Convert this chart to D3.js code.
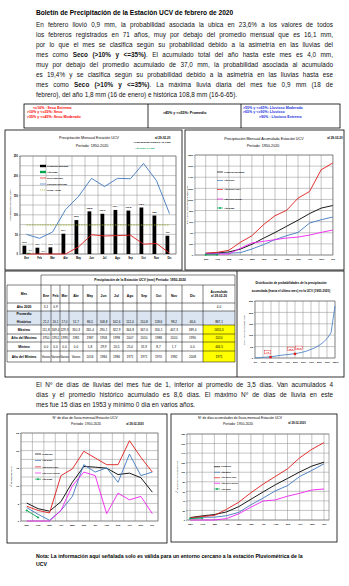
<!DOCTYPE html>
<html><head><meta charset="utf-8">
<script src="https://cdn.jsdelivr.net/npm/d3@7"></script>
<style>html,body{margin:0;padding:0;background:#fff}svg{display:block}</style>
</head><body><svg id="c" width="349" height="586"></svg>
<script>
// ---------------- DATA ----------------
const months = ["Ene","Feb","Mar","Abr","May","Jun","Jul","Ago","Sep","Oct","Nov","Dic"];
// Chart 1: monthly precipitation (mm)
const promMensual = [21.2,16.1,17.0,51.7,86.5,108.8,102.6,112.4,110.8,118.6,98.2,46.6];
const anio2020 = [3.1,0.9];
const secoExtremo = [0,0,0,0,18,49,46,47,48,25,27,2];
const lluviosoExtremo = [50,40,56,113,147,193,172,193,192,231,187,103];
const promAnual = 73.9;
const yTicks1 = [0,50,100,150,200,250];
// Chart 2: accumulated precipitation (mm)
const acumPromedio = [21.2,37.3,54.3,106.0,192.5,301.3,403.9,516.3,627.1,745.7,843.9,890.5];
const acum2019 = [30,30,32,42,108,186,276,347,407,575,635,683];
const acum2010 = [36,48,84,228,347,545,707,803,1024,1144,1534,1655.5];
const acum1971 = [18,18,18,120,216,246,276,305,323,359,407,449];
const acum2020 = [3.1,4.0];
const yTicks2 = [0,200,400,600,800,1000,1200,1400,1600,1800];
// Table
const tblAnio2020 = [3.1,0.9,null,null,null,null,null,null,null,null,null,null];
const tblMaximo = [111.8,169.4,129.3,310.3,265.4,290.1,322.9,344.8,347.6,316.1,407.3,189.4];
const tblAnioMax = [1950,1951,1995,1981,1987,1958,1998,2007,2010,1988,2010,1990];
const tblMinimo = [0,0,0,0,5.8,29.9,20.5,25.0,31.9,8.7,1.7,0];
const tblAnioMin = ["Varios","Varios","Varios","Varios",2016,1984,1986,1971,1971,1970,1982,2008];
const tblAcum = {anio2020:4.0, prom:887.1, max:1655.5, anioMax:2010, min:446.5, anioMin:1971};
// Distribution chart
const distProb = [0,5,10,15,20,25,30,35,40,45,50,55,60,65,70,75,80,85,90,95,100];
const distVal  = [0,1,3,4,6,8,11,13,15,17,19,22,26,31,38,45,55,68,85,110,228];
const distMarkProb = [19.4,50];
const distMarkVal = [4.0,18];
const distLabels = ["4,0","18,0","37,0"];
const distXTicks = [0,10,20,30,40,50,60,70,80,90,100];
const distYTicks = [0,50,100,150,200,250];
// Chart 3: rain days per month
const diasProm = [5.1,3.5,2.8,5.5,11.0,15.5,15.3,15.0,13.2,13.6,12.3,8.2];
const dias2019 = [3.8,1.9,0.2,3.0,7.0,16.0,13.9,15.1,11.0,19.0,12.9,13.9];
const dias2010 = [4.2,3.0,2.3,12.9,14.8,19.8,17.9,16.0,16.0,22.8,18.1,13.9];
const dias1971 = [0,0,0,3.0,10.0,13.9,12.9,2.1,7.9,6.0,7.0,2.1];
const dias2020 = [3,1];
const yTicks3 = [0,5,10,15,20,25];
// Chart 4: accumulated rain days
const diasAcumProm = [5.1,8.6,11.4,16.9,27.9,43.4,58.7,73.7,86.9,100.5,112.8,121.0];
const diasAcum2019 = [3.8,5.7,5.9,8.9,15.9,31.9,45.8,60.9,71.9,90.9,103.8,117.7];
const diasAcum2010 = [4.2,7.2,9.5,22.4,37.2,57.0,75.0,91.0,107.0,130.0,148.0,162.0];
const diasAcum1971 = [0,0,0,3,13,26.9,39.8,41.9,49.8,55.8,62.8,64.9];
const diasAcum2020 = [3,4];
const yTicks4 = [0,20,40,60,80,100,120,140,160,180];

// ---------------- HELPERS ----------------
const NAR = "'Liberation Sans Narrow','Arial Narrow','Liberation Sans',Arial,sans-serif";
const SANS = "'Liberation Sans',Arial,Helvetica,sans-serif";
const GRID = "#8a8a8a";
const C = {red:"#e01b1b", blue:"#3f78c0", mag:"#f020f0", green:"#00a650", olive:"#9ab21c", black:"#000"};
const fmt1 = v => d3.format(".1f")(v).replace(".", ",");
const svg = d3.select("#c");
svg.append("rect").attr("width",349).attr("height",586).attr("fill","#fff");

function T(g,x,y,s,o={}) {
  const t = g.append("text").attr("x",x).attr("y",y).attr("dy","0.35em")
    .attr("font-family", o.fam||NAR).attr("font-size", o.size||3)
    .attr("fill", o.fill||"#000").attr("text-anchor", o.anchor||"start").text(s);
  if (o.bold) t.attr("font-weight","bold");
  if (o.rot) t.attr("transform",`rotate(-90,${x},${y})`);
  return t;
}
function box(g,x,y,w,h,sw=0.8){
  g.append("rect").attr("x",x).attr("y",y).attr("width",w).attr("height",h)
   .attr("fill","none").attr("stroke","#000").attr("stroke-width",sw);
}
function frame(g, xL, xR, y, yGrid, xGrid) {
  const [yB, yT] = y.range();
  g.append("g").selectAll("line").data(yGrid).join("line")
    .attr("x1",xL).attr("x2",xR).attr("y1",d=>y(d)).attr("y2",d=>y(d))
    .attr("stroke",GRID).attr("stroke-width",0.5);
  g.append("g").selectAll("line").data(xGrid).join("line")
    .attr("x1",d=>d).attr("x2",d=>d).attr("y1",yT).attr("y2",yB)
    .attr("stroke",GRID).attr("stroke-width",0.5);
  g.append("rect").attr("x",xL).attr("y",yT).attr("width",xR-xL).attr("height",yB-yT)
    .attr("fill","none").attr("stroke","#6f6f6f").attr("stroke-width",0.6);
}
function yAxis(g, y, xL, ticks, f, size){
  const a = g.append("g").attr("transform",`translate(${xL},0)`)
    .call(d3.axisLeft(y).tickValues(ticks).tickSize(1).tickPadding(1).tickFormat(f));
  a.select(".domain").remove();
  a.selectAll("text").attr("font-size",size).attr("font-family",NAR).attr("font-weight","bold");
  a.selectAll("line").attr("stroke","#555").attr("stroke-width",0.4);
}
function xAxis(g, x, yB, size, pad, f){
  const ax = d3.axisBottom(x).tickSize(0).tickPadding(pad);
  if (f) ax.tickFormat(f);
  const a = g.append("g").attr("transform",`translate(0,${yB})`).call(ax);
  a.select(".domain").remove();
  a.selectAll("text").attr("font-size",size).attr("font-family",NAR).attr("font-weight","bold");
}
function plus(g,x,y,color,s=1.1){
  g.append("path").attr("d",`M${x-s},${y}H${x+s}M${x},${y-s}V${y+s}`)
   .attr("stroke",color).attr("stroke-width",0.8).attr("fill","none");
}
function series(g, data, xf, y, color, w=0.8, marker=false){
  g.append("path").datum(data)
    .attr("d", d3.line().x((d,i)=>xf(months[i])).y(d=>y(d)))
    .attr("fill","none").attr("stroke",color).attr("stroke-width",w).attr("stroke-linejoin","round");
  if (marker) data.forEach((d,i)=>plus(g, xf(months[i]), y(d), color));
}
function legend(g, x, ys, items, size){
  items.forEach((it,i)=>{
    const y = ys[i];
    if (it.type==="rect") g.append("rect").attr("x",x).attr("y",y-1.2).attr("width",6).attr("height",2.4).attr("fill",it.color);
    else {
      g.append("line").attr("x1",x).attr("x2",x+6).attr("y1",y).attr("y2",y)
        .attr("stroke",it.color).attr("stroke-width",0.7)
        .attr("stroke-dasharray", it.type==="dash"?"1.2,0.8":null);
      if (it.type==="plus") plus(g, x+3, y, it.color, 1);
    }
    T(g, x+7, y, it.label, {size, bold:true});
  });
}
function para(lines, x, y0, lh, W, size){
  lines.forEach((ln,i)=>{
    const t = svg.append("text").attr("x",x).attr("y",y0+i*lh)
      .attr("font-family",SANS).attr("font-size",size).attr("fill","#111");
    ln.forEach(seg => { const s = t.append("tspan").text(seg.t); if (seg.b) s.attr("font-weight","bold"); });
    if (i < lines.length-1) {
      const len = t.node().getComputedTextLength();
      const n = (t.text().match(/ /g)||[]).length;
      if (n) t.attr("word-spacing", (W-len)/n);
    }
  });
}

// ---------------- HEADER TEXT ----------------
T(svg, 36, 12.8, "Boletín de Precipitación de la Estación UCV de febrero de 2020", {fam:SANS, size:6.6, bold:true});
para([
  [{t:"En febrero llovió 0,9 mm, la probabilidad asociada la ubica en 23,6% a los valores de todos"}],
  [{t:"los febreros registrados en 71 años, muy por debajo del promedio mensual que es 16,1 mm,"}],
  [{t:"por lo que el mes se clasifica según su probabilidad debido a la asimetría en las lluvias del"}],
  [{t:"mes como "},{t:"Seco (>10% y <=35%)",b:true},{t:". El acumulado total del año hasta este mes es 4,0 mm,"}],
  [{t:"muy por debajo del promedio acumulado de 37,0 mm, la probabilidad asociada al acumulado"}],
  [{t:"es 19,4% y se clasifica según su probabilidad debido a la asimetría en las lluvias hasta ese"}],
  [{t:"mes como "},{t:"Seco (>10% y <=35%)",b:true},{t:". La máxima lluvia diaria del mes fue 0,9 mm (18 de"}],
  [{t:"febrero), del año 1,8 mm (16 de enero) e histórica 108,8 mm (16-6-65)."}]
], 36, 27, 10.05, 297, 6.4);

// Classification legend box
const lg = svg.append("g");
box(lg, 24, 104, 316, 24, 0.8);
lg.append("line").attr("x1",148).attr("x2",148).attr("y1",104).attr("y2",128).attr("stroke","#000").attr("stroke-width",0.8);
lg.append("line").attr("x1",241).attr("x2",241).attr("y1",104).attr("y2",128).attr("stroke","#000").attr("stroke-width",0.8);
T(lg, 33, 107.5, "<=10%   : Seco Extremo", {size:3.6, fill:"#ff0000", bold:true, fam:SANS});
T(lg, 27, 112, ">10% y <=35%: Seco", {size:3.6, fill:"#ff0000", bold:true, fam:SANS});
T(lg, 27, 116.5, ">35% y <=45%: Seco Moderado", {size:3.6, fill:"#ff0000", bold:true, fam:SANS});
T(lg, 163, 112.7, ">45% y <=55%:  Promedio", {size:3.6, bold:true, fam:SANS});
T(lg, 243, 107.5, ">55% y <=65%: Lluvioso Moderado", {size:3.6, fill:"#2233dd", bold:true, fam:SANS});
T(lg, 243, 112, ">65% y <=90%: Lluvioso", {size:3.6, fill:"#2233dd", bold:true, fam:SANS});
T(lg, 259, 116.5, ">90%    : Lluvioso Extremo", {size:3.6, fill:"#2233dd", bold:true, fam:SANS});

// ---------------- CHART 1 ----------------
{
  const g = svg.append("g");
  box(g, 5, 130, 177, 140);
  const x = d3.scaleBand().domain(months).range([20,176]);
  const y = d3.scaleLinear().domain([0,250]).range([254,156]);
  const bw = x.bandwidth();
  frame(g, 20, 176, y, d3.range(0,251,25), months.map(m=>x(m)).concat([176]));
  yAxis(g, y, 20, yTicks1, d=>d, 2.6);
  xAxis(g, x, 254, 2.6, 3);
  const sub = d3.scaleBand().domain(["p","a"]).range([0,bw]).paddingInner(0.1).paddingOuter(0.6);
  g.append("g").selectAll("rect").data(promMensual).join("rect")
    .attr("x",(d,i)=>x(months[i])+sub("p")).attr("width",sub.bandwidth())
    .attr("y",d=>y(d)).attr("height",d=>y(0)-y(d)).attr("fill","#000");
  g.append("g").selectAll("rect").data(anio2020).join("rect")
    .attr("x",(d,i)=>x(months[i])+sub("a")).attr("width",sub.bandwidth())
    .attr("y",d=>y(d)).attr("height",d=>y(0)-y(d)).attr("fill",C.green);
  promMensual.forEach((d,i)=>{
    const cx = x(months[i])+sub("p")+sub.bandwidth()/2;
    g.append("rect").attr("x",cx-3.3).attr("y",y(d)-5).attr("width",6.6).attr("height",3).attr("fill","#fff");
    T(g, cx, y(d)-3.5, fmt1(d), {size:2.3, anchor:"middle", bold:true});
  });
  anio2020.forEach((d,i)=>{
    const cx = x(months[i])+sub("a")+sub.bandwidth()/2+1.5;
    T(g, cx, y(d)-2.5, fmt1(d), {size:2.2, anchor:"middle", bold:true, fill:"#333"});
  });
  const cx = m => x(m)+bw/2;
  series(g, secoExtremo, cx, y, C.red, 0.9);
  series(g, lluviosoExtremo, cx, y, C.blue, 0.9);
  g.append("line").attr("x1",cx("Ene")).attr("x2",cx("Dic")).attr("y1",y(promAnual)).attr("y2",y(promAnual))
    .attr("stroke",C.olive).attr("stroke-width",0.8).attr("stroke-dasharray","1.6,1");
  legend(g, 40, [166,172,178,184,190], [
    {type:"rect",color:"#000",label:"Promedio Mensual"},
    {type:"rect",color:C.green,label:"Año 2020"},
    {type:"line",color:C.red,label:"Seco Extremo"},
    {type:"line",color:C.blue,label:"Lluvioso Extremo"},
    {type:"dash",color:C.olive,label:"Prom. Anual"}], 2.4);
  T(g, 89, 138, "Precipitación Mensual Estación UCV", {size:3.7, anchor:"middle"});
  T(g, 92, 145.5, "Período: 1950-2020", {size:3.7, anchor:"middle"});
  T(g, 155, 137.5, "al 29-02-20", {size:3, bold:true});
  T(g, 134, 142.4, "Prom.Mensual histórico: 16,1 mm", {size:2.3, bold:true});
  T(g, 135, 148.5, "Año 2020: 0,9 mm", {size:2.3, bold:true, fill:C.green});
  T(g, 10, 205, "Precipitación mensual (mm)", {size:2.5, rot:true, anchor:"middle"});
}

// ---------------- CHART 2 ----------------
{
  const g = svg.append("g");
  box(g, 185, 130, 159, 140);
  const x = d3.scalePoint().domain(months).range([205.7,332.7]);
  const y = d3.scaleLinear().domain([0,1800]).range([255,155]);
  frame(g, 195, 333, y, yTicks2, months.map(m=>x(m)));
  yAxis(g, y, 195, yTicks2, d=>d, 2.3);
  xAxis(g, x, 255, 2.5, 3);
  series(g, acumPromedio, x, y, C.black, 0.9);
  series(g, acum2019, x, y, C.blue, 0.9);
  series(g, acum2010, x, y, C.red, 0.9);
  series(g, acum1971, x, y, C.mag, 0.9);
  series(g, acum2020, x, y, C.green, 0.9, true);
  legend(g, 217, [172,180.5,189.5,199,208], [
    {type:"line",color:"#000",label:"Promedio Mensual"},
    {type:"line",color:C.blue,label:"Año 2019"},
    {type:"line",color:C.red,label:"Año 2010 (lluv.)"},
    {type:"line",color:C.mag,label:"Año 1971 (Seco)"},
    {type:"plus",color:C.green,label:"Año 2020"}], 2.3);
  T(g, 264, 138.3, "Precipitación Mensual Acumulada Estación UCV", {size:3.7, anchor:"middle"});
  T(g, 263, 145.5, "Período: 1950-2020", {size:3.7, anchor:"middle"});
  T(g, 335, 138, "al 29-02-20", {size:3, bold:true, anchor:"middle"});
  T(g, 187.5, 205, "Precipitación mensual acumulada (mm)", {size:2.2, rot:true, anchor:"middle"});
}

// ---------------- TABLE ----------------
{
  const g = svg.append("g");
  box(g, 5, 271, 339, 106, 0.8);
  g.append("line").attr("x1",237).attr("x2",237).attr("y1",271).attr("y2",377).attr("stroke","#000").attr("stroke-width",0.8);
  const colX = [7,41,51,60,69,83,97,110,123,137,151,166,182,203,235];
  const rowY = [275,285,303,311,325,334,342,351,362];
  // backgrounds
  g.append("rect").attr("x",colX[0]).attr("y",rowY[3]).attr("width",colX[14]-colX[0]).attr("height",rowY[4]-rowY[3]).attr("fill","#dbe5f1");
  g.append("rect").attr("x",colX[13]).attr("y",rowY[4]).attr("width",colX[14]-colX[13]).attr("height",rowY[8]-rowY[4]).attr("fill","#ffff00");
  // horizontal lines
  rowY.forEach((yy,i)=>{
    g.append("line").attr("x1", i===0?colX[1]:colX[0]).attr("x2",colX[14]).attr("y1",yy).attr("y2",yy)
      .attr("stroke","#000").attr("stroke-width",0.5);
  });
  colX.forEach((xx,i)=>{
    const top = (i===0) ? rowY[1] : ((i===1||i===14) ? rowY[0] : rowY[1]);
    g.append("line").attr("x1",xx).attr("x2",xx).attr("y1",top).attr("y2",rowY[8])
      .attr("stroke","#000").attr("stroke-width",0.5);
  });
  const cxc = i => (colX[i]+colX[i+1])/2;
  const cyr = r => (rowY[r]+rowY[r+1])/2;
  T(g, 140, cyr(0), "Precipitación de la Estación UCV (mm)     Período: 1950-2020", {size:3.3, anchor:"middle", bold:true});
  T(g, cxc(0), cyr(1), "Mes", {size:3.3, anchor:"middle", bold:true});
  months.forEach((m,i)=>T(g, cxc(i+1), cyr(1)+1.5, m, {size:3.3, anchor:"middle", bold:true}));
  T(g, cxc(13), cyr(1)-2, "Acumulado", {size:3.1, anchor:"middle", bold:true});
  T(g, cxc(13), cyr(1)+2.2, "al 29-02-20", {size:3.1, anchor:"middle", bold:true});
  const labels = ["Año 2020","","Máximo","Año del Máximo","Mínimo","Año del Mínimo"];
  const rowsData = [tblAnio2020, promMensual, tblMaximo, tblAnioMax, tblMinimo, tblAnioMin];
  const acumVals = [fmt1(tblAcum.anio2020), fmt1(tblAcum.prom), fmt1(tblAcum.max), tblAcum.anioMax, fmt1(tblAcum.min), tblAcum.anioMin];
  const isNum = [true,true,true,false,true,false];
  rowsData.forEach((arr,r)=>{
    const ry = r===1 ? rowY[4]-3.2 : cyr(r+2);
    if (r===1) {
      T(g, cxc(0), rowY[3]+3.3, "Promedio", {size:3.3, anchor:"middle", bold:true});
      T(g, cxc(0), rowY[4]-3.2, "Histórico", {size:3.3, anchor:"middle", bold:true});
    } else T(g, cxc(0), ry, labels[r], {size:3.3, anchor:"middle", bold:true});
    arr.forEach((v,i)=>{
      if (v===null) return;
      T(g, cxc(i+1), ry, (isNum[r] && typeof v==="number") ? fmt1(v) : String(v), {size:3.1, anchor:"middle"});
    });
    T(g, cxc(13), ry, String(acumVals[r]), {size:3.1, anchor:"middle"});
  });
}

// ---------------- DISTRIBUTION CHART ----------------
{
  const g = svg.append("g");
  const x = d3.scaleLinear().domain([0,100]).range([255,335]);
  const y = d3.scaleLinear().domain([0,250]).range([358,301]);
  frame(g, 255, 335, y, distYTicks, distXTicks.map(d=>x(d)));
  yAxis(g, y, 255, distYTicks, d=>d, 2.4);
  const xa = g.append("g").attr("transform","translate(0,358)")
    .call(d3.axisBottom(x).tickValues(distXTicks).tickSize(0).tickPadding(3).tickFormat(d=>d+"%"));
  xa.select(".domain").remove();
  xa.selectAll("text").attr("font-size",2.4).attr("font-family",NAR).attr("font-weight","bold");
  g.append("path").datum(distProb.map((p,i)=>[p,distVal[i]]))
    .attr("d", d3.line().x(d=>x(d[0])).y(d=>y(d[1])))
    .attr("fill","none").attr("stroke",C.blue).attr("stroke-width",0.8);
  distMarkProb.forEach((p,i)=>{
    g.append("rect").attr("x",x(p)-1.2).attr("y",y(distMarkVal[i])-1.2).attr("width",2.4).attr("height",2.4).attr("fill",C.red);
  });
  const lblPos = [[x(distMarkProb[0])-3, y(distMarkVal[0])-5],[x(distMarkProb[1])-4, y(distMarkVal[1])-5],[x(distMarkProb[1])+4, y(distMarkVal[1])-6]];
  lblPos.forEach((p,i)=>{
    g.append("rect").attr("x",p[0]-3.3).attr("y",p[1]-1.8).attr("width",6.6).attr("height",3.6)
      .attr("fill","#fff").attr("stroke",C.red).attr("stroke-width",0.4);
    T(g, p[0], p[1], distLabels[i], {size:2.4, anchor:"middle", fill:C.red, bold:true});
  });
  T(g, 291, 283, "Distribución de probabilidades de la precipitación", {size:3, anchor:"middle", bold:true});
  T(g, 291, 290.5, "acumulada (hasta el último mes) en la UCV (1950-2020)", {size:3, anchor:"middle", bold:true});
  T(g, 244, 330, "Precipitación acumulada (mm)", {size:2.2, rot:true, anchor:"middle"});
}

// ---------------- MIDDLE TEXT ----------------
para([
  [{t:"El Nº de días de lluvias del mes fue de 1, inferior al promedio de 3,5 días. Van acumulados 4"}],
  [{t:"días y el promedio histórico acumulado es 8,6 días. El máximo Nº de días de lluvia en este"}],
  [{t:"mes fue 15 días en 1953 y mínimo 0 día en varios años."}]
], 36, 387.3, 9.6, 297, 6.4);

// ---------------- CHART 3 ----------------
{
  const g = svg.append("g");
  box(g, 7, 414, 160, 129);
  const x = d3.scaleBand().domain(months).range([21,158]);
  const y = d3.scaleLinear().domain([0,25]).range([521,433]);
  frame(g, 21, 158, y, d3.range(0,25.1,2.5), months.map(m=>x(m)).concat([158]));
  yAxis(g, y, 21, yTicks3, d=>d, 2.4);
  xAxis(g, x, 521, 2.5, 3.5);
  const cx = m => x(m)+x.bandwidth()/2;
  series(g, diasProm, cx, y, C.black, 0.9);
  series(g, dias2019, cx, y, C.blue, 0.9);
  series(g, dias2010, cx, y, C.red, 0.9);
  series(g, dias1971, cx, y, C.mag, 0.9);
  series(g, dias2020, cx, y, C.green, 0.9, true);
  legend(g, 35, [454,460.5,466.8,473,479.2], [
    {type:"line",color:"#000",label:"Promedio"},
    {type:"line",color:C.blue,label:"Año 2019"},
    {type:"line",color:C.red,label:"Año 2010 (lluv)"},
    {type:"line",color:C.mag,label:"Año 1971 (Seco)"},
    {type:"plus",color:C.green,label:"Año 2020"}], 2.3);
  T(g, 85, 418.3, "Nº de días de lluvia mensual Estación UCV", {size:3.4, anchor:"middle"});
  T(g, 86, 424, "Período: 1950-2020", {size:3.4, anchor:"middle"});
  T(g, 135, 424, "al 29-02-2020", {size:2.8, anchor:"middle", bold:true});
  T(g, 11.5, 477, "Nº de días de lluvia", {size:2.4, rot:true, anchor:"middle"});
}

// ---------------- CHART 4 ----------------
{
  const g = svg.append("g");
  box(g, 171, 414, 166, 128);
  const x = d3.scalePoint().domain(months).range([190,324]);
  const y = d3.scaleLinear().domain([0,180]).range([520,434]);
  frame(g, 187, 329, y, yTicks4, months.map(m=>x(m)));
  yAxis(g, y, 187, yTicks4, d=>d, 2.3);
  xAxis(g, x, 520, 2.5, 3.5);
  series(g, diasAcumProm, x, y, C.black, 0.9);
  series(g, diasAcum2019, x, y, C.blue, 0.9);
  series(g, diasAcum2010, x, y, C.red, 0.9);
  series(g, diasAcum1971, x, y, C.mag, 0.9);
  series(g, diasAcum2020, x, y, C.green, 0.9, true);
  legend(g, 214, [466.7,472.3,477.7,483.3,489], [
    {type:"line",color:"#000",label:"Promedio"},
    {type:"line",color:C.blue,label:"Año 2019"},
    {type:"line",color:C.red,label:"Año 2010 (lluv)"},
    {type:"line",color:C.mag,label:"Año 1971 (Seco)"},
    {type:"plus",color:C.green,label:"Año 2020"}], 2.2);
  T(g, 240, 418.3, "Nº de días acumulados de lluvia mensual Estación UCV", {size:3.4, anchor:"middle"});
  T(g, 238, 424, "Período: 1950-2020", {size:3.4, anchor:"middle"});
  T(g, 297, 423, "al 29-02-2020", {size:2.8, anchor:"middle", bold:true});
  T(g, 177, 477, "Nº de días acumulados de lluvia", {size:2.3, rot:true, anchor:"middle"});
}

// ---------------- NOTE ----------------
T(svg, 36, 556, "Nota: La información aquí señalada solo es válida para un entorno cercano a la estación Pluviométrica de la", {fam:SANS, size:5.2, bold:true});
T(svg, 36, 564.5, "UCV", {fam:SANS, size:5.2, bold:true});
</script></body></html>
